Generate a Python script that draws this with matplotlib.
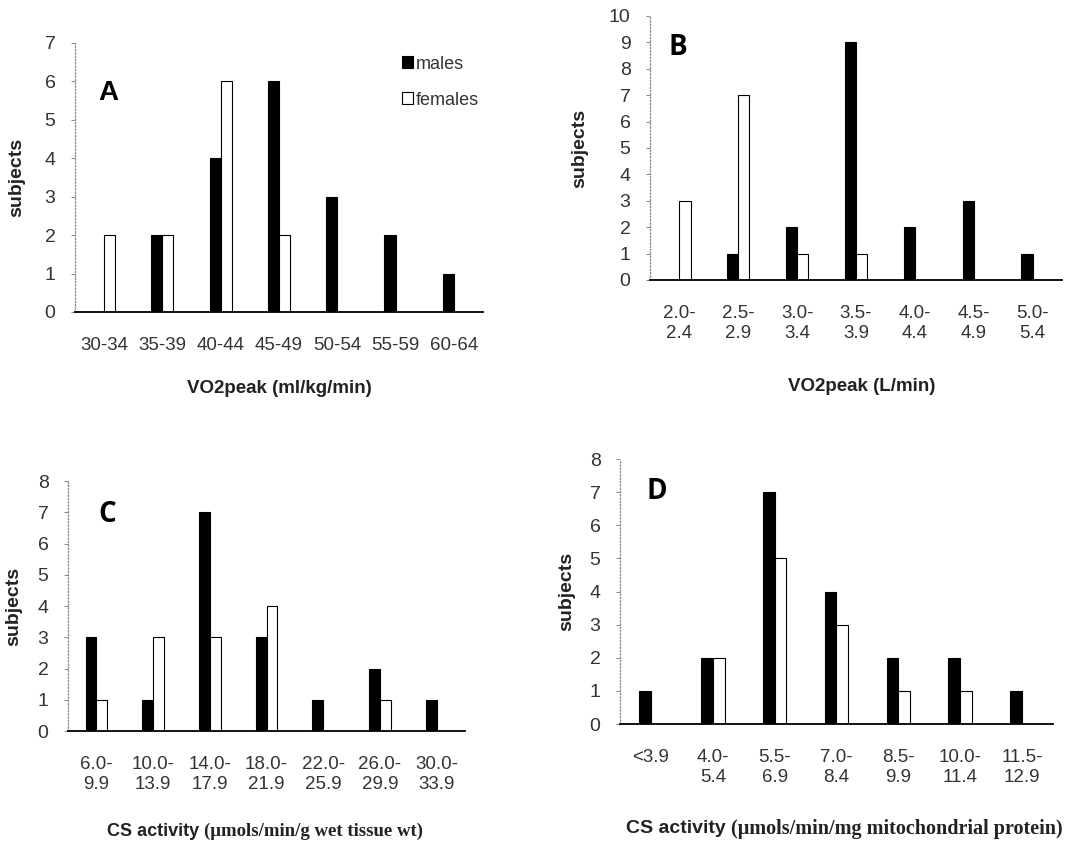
import numpy as np
import matplotlib
matplotlib.use("Agg")
import matplotlib.pyplot as plt
from matplotlib.patches import Patch

plt.rcParams['font.family'] = ['Liberation Sans', 'DejaVu Sans']

# panel A
cats_a = ['30-34', '35-39', '40-44', '45-49', '50-54', '55-59', '60-64']
males_a = [0, 2, 4, 6, 3, 2, 1]
females_a = [2, 2, 6, 2, 0, 0, 0]

# panel B
cats_b = ['2.0-\n2.4', '2.5-\n2.9', '3.0-\n3.4', '3.5-\n3.9', '4.0-\n4.4', '4.5-\n4.9', '5.0-\n5.4']
males_b = [0, 1, 2, 9, 2, 3, 1]
females_b = [3, 7, 1, 1, 0, 0, 0]

# panel C
cats_c = ['6.0-\n9.9', '10.0-\n13.9', '14.0-\n17.9', '18.0-\n21.9', '22.0-\n25.9', '26.0-\n29.9', '30.0-\n33.9']
males_c = [3, 1, 7, 3, 1, 2, 1]
females_c = [1, 3, 3, 4, 0, 1, 0]

# panel D
cats_d = ['<3.9', '4.0-\n5.4', '5.5-\n6.9', '7.0-\n8.4', '8.5-\n9.9', '10.0-\n11.4', '11.5-\n12.9']
males_d = [1, 2, 7, 4, 2, 2, 1]
females_d = [0, 2, 5, 3, 1, 1, 0]

W = 0.19
TXT = '#333333'


def panel(fig, rect, cats, males, females, ymax, letter, letter_pos, ylab_pos, letter_font):
    ax = fig.add_axes(rect)
    x = np.arange(len(cats))
    ax.bar(x - W / 2, males, W, color='black', edgecolor='black', linewidth=0.8)
    ax.bar(x + W / 2, females, W, color='white', edgecolor='black', linewidth=0.8)
    ax.set_xlim(-0.5, len(cats) - 0.5)
    ax.set_ylim(0, ymax)
    ax.set_yticks(range(ymax + 1))
    ax.set_xticks(x)
    ax.set_xticklabels(cats, fontsize=13.5, color=TXT, linespacing=1.2)
    ax.tick_params(axis='x', length=0, pad=18)
    ax.tick_params(axis='y', length=3, width=0.7, color='#888888', pad=11,
                   labelsize=14, labelcolor=TXT)
    for s in ['top', 'right']:
        ax.spines[s].set_visible(False)
    ax.spines['left'].set_linestyle(':')
    ax.spines['left'].set_color('#888888')
    ax.spines['left'].set_linewidth(0.9)
    ax.spines['bottom'].set_linewidth(1.3)
    ax.set_ylabel('subjects', fontsize=14, fontweight='bold', color='#222222')
    ax.yaxis.set_label_coords(*ylab_pos)
    ax.text(letter_pos[0], letter_pos[1], letter, transform=ax.transAxes,
            fontsize=20, fontweight='bold', family=letter_font, ha='center', va='center')
    return ax


fig = plt.figure(figsize=(10.9, 8.42), dpi=100)

ax_a = panel(fig, [0.0688, 0.6295, 0.3743, 0.3195], cats_a, males_a, females_a, 7,
             'A', (0.081, 0.814), (-0.123, 0.5), 'Liberation Sans')
ax_a.text(0.502, -0.283, 'VO2peak (ml/kg/min)', transform=ax_a.transAxes, ha='center',
          va='center', fontsize=13.5, fontweight='bold', color='#222222')
handles = [Patch(facecolor='black', edgecolor='black', linewidth=0.8),
           Patch(facecolor='white', edgecolor='black', linewidth=0.8)]
ax_a.legend(handles, ['males', 'females'], loc='upper left', bbox_to_anchor=(0.785, 0.98),
            frameon=False, fontsize=13, handlelength=0.6, handleheight=0.6,
            handletextpad=0.15, labelspacing=1.05, borderaxespad=0, labelcolor=TXT)

ax_b = panel(fig, [0.5963, 0.6675, 0.378, 0.3135], cats_b, males_b, females_b, 10,
             'B', (0.068, 0.879), (-0.15, 0.5), 'Open Sans')
ax_b.text(0.515, -0.405, 'VO2peak (L/min)', transform=ax_b.transAxes, ha='center',
          va='center', fontsize=13.5, fontweight='bold', color='#222222')

ax_c = panel(fig, [0.0624, 0.1318, 0.3642, 0.2969], cats_c, males_c, females_c, 8,
             'C', (0.098, 0.868), (-0.116, 0.5), 'Open Sans')
ax_c.text(0.342, -0.40, 'CS activity ', transform=ax_c.transAxes, ha='right',
          va='center', fontsize=13, fontweight='bold', color='#222222')
ax_c.text(0.342, -0.40, '(\u03bcmols/min/g wet tissue wt)', transform=ax_c.transAxes,
          ha='left', va='center', fontsize=13.5, fontweight='bold', color='#222222',
          family='Liberation Serif')

ax_d = panel(fig, [0.5688, 0.1401, 0.3972, 0.3147], cats_d, males_d, females_d, 8,
             'D', (0.085, 0.879), (-0.104, 0.5), 'Open Sans')
ax_d.text(0.256, -0.396, 'CS activity ', transform=ax_d.transAxes, ha='right',
          va='center', fontsize=14, fontweight='bold', color='#222222')
ax_d.text(0.256, -0.396, '(\u03bcmols/min/mg mitochondrial protein)', transform=ax_d.transAxes,
          ha='left', va='center', fontsize=14.5, fontweight='bold', color='#222222',
          family='Liberation Serif')

fig.savefig('out.png', dpi=100)
